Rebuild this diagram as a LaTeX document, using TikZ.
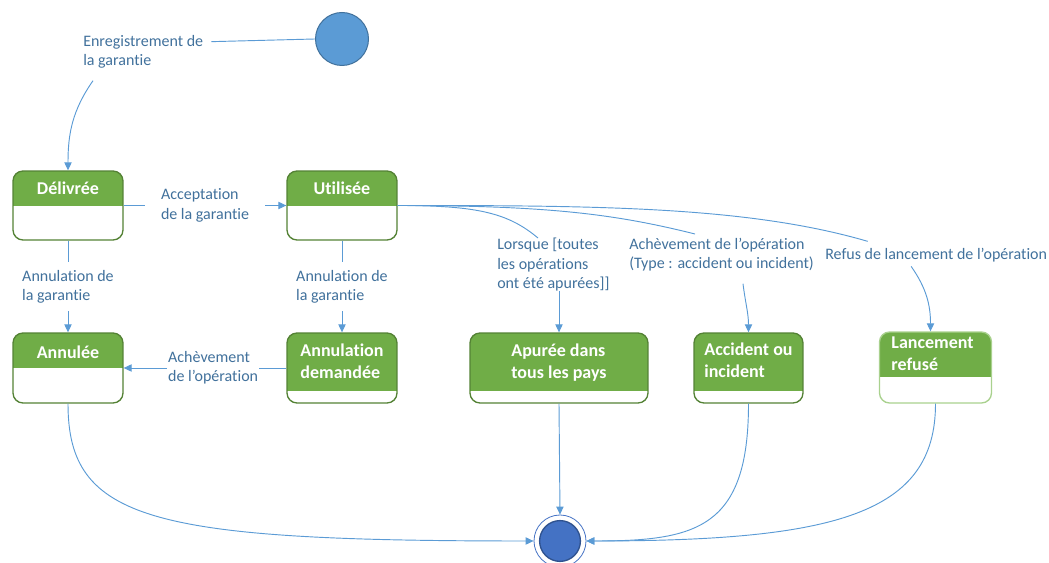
\documentclass[tikz,border=0pt]{standalone}
\usepackage{fontspec}
\setmainfont[Ligatures=NoCommon]{Carlito}
\usetikzlibrary{arrows.meta,calc}

\definecolor{vertfonce}{HTML}{548235}
\definecolor{vert}{HTML}{70AD47}
\definecolor{vertpale}{HTML}{A9D18E}
\definecolor{bleu}{HTML}{5B9BD5}
\definecolor{bleutexte}{HTML}{41719C}
\definecolor{bleufin}{HTML}{4472C4}
\definecolor{bleufinbord}{HTML}{2F528F}

\tikzset{
  etat/.style={draw=vertfonce, line width=1pt, rounded corners=7.5pt, fill=white, inner sep=0pt},
  entete/.style={path picture={\fill[vert, sharp corners] (path picture bounding box.north west) rectangle ([yshift=-#1]path picture bounding box.north east);}},
  titre/.style={text=white, font=\bfseries\fontsize{13.5}{16.5}\selectfont, align=left, inner sep=0pt},
  lbl/.style={text=bleutexte, font=\fontsize{12}{14.5}\selectfont, align=left, inner sep=0pt},
  depart/.style={circle, fill=bleu, draw=bleutexte, line width=0.75pt, minimum size=39.75pt, inner sep=0pt},
  final/.style={circle, draw=bleufin, line width=0.6pt, minimum size=39pt, inner sep=0pt,
    path picture={\filldraw[fill=bleufin, draw=bleufinbord, line width=1pt] (path picture bounding box.center) circle (15.3pt);}},
  trait/.style={draw=bleu, line width=0.7pt},
  fleche/.style={trait, -{Triangle[length=6pt,width=5.5pt]}},
}

\begin{document}
\begin{tikzpicture}[x=0.75pt, y=0.75pt]
    \useasboundingbox (0,0) rectangle (1049,563);

    \node[depart] (init) at (342,524) {};
    \node[final] (fin) at (560,22) {};

    \node[etat, entete=26.25pt, minimum width=82.5pt, minimum height=51.75pt] (delivree) at (68,357.5) {};
    \node[etat, entete=26.25pt, minimum width=82.5pt, minimum height=51.75pt] (utilisee) at (342,357.5) {};
    \node[etat, entete=26.25pt, minimum width=82.5pt, minimum height=52.5pt] (annulee) at (68,195) {};
    \node[etat, entete=43.5pt, minimum width=82.5pt, minimum height=52.5pt] (demandee) at (342,195) {};
    \node[etat, entete=43.5pt, minimum width=133.5pt, minimum height=52.5pt] (apuree) at (559,195) {};
    \node[etat, entete=43.5pt, minimum width=81.75pt, minimum height=52.5pt] (accident) at (748.5,195) {};
    \node[etat, draw=vertpale, entete=33.75pt, minimum width=84pt, minimum height=53.25pt] (lancement) at (935.5,195.5) {};

    \node[titre] (delivree-t) at (68,374.5) {Délivrée};
    \node[titre] (utilisee-t) at (342,374.5) {Utilisée};
    \node[titre] (annulee-t) at (68,211) {Annulée};
    \node[titre] (demandee-t) at (342,201.5) {Annulation\\demandée};
    \node[titre] (apuree-t) at (559,200.5) {Apurée dans\\tous les pays};
    \node[titre] (accident-t) at (748.5,202.5) {Accident ou\\incident};
    \node[titre] (lancement-t) at (932.5,209) {Lancement\\refusé};

    \node[lbl, anchor=north west] (enreg) at (83,528) {Enregistrement de\\la garantie};
    \node[lbl, anchor=north west] (lorsque) at (497,325) {Lorsque [toutes\\les opérations\\ont été apurées]]};
    \node[lbl, anchor=north west] (acheve) at (629,325) {Achèvement de l’opération\\(Type : accident ou incident)};
    \node[lbl, anchor=north west] (refus) at (825,315) {Refus de lancement de l’opération};

    \draw[trait] (init.west) -- ([xshift=6pt,yshift=-5pt]enreg.north east);
    \draw[fleche] ([xshift=7.5pt,yshift=-9pt]enreg.south west) to[out=-125,in=90] (delivree.north);

    \draw[fleche] (delivree.east) -- node[lbl, fill=white, inner xsep=12pt, inner ysep=2pt] (accept) {Acceptation\\de la garantie} (utilisee.west);
    \draw[fleche] (delivree.south) -- node[lbl, fill=white, inner ysep=6pt] (annul1) {Annulation de\\la garantie} (annulee.north);
    \draw[fleche] (utilisee.south) -- node[lbl, fill=white, inner ysep=6pt] (annul2) {Annulation de\\la garantie} (demandee.north);
    \draw[fleche] (demandee.west) -- node[lbl, fill=white, inner xsep=1pt, pos=0.45] (acheve1) {Achèvement\\de l’opération} (annulee.east);

    \draw[trait] (utilisee.east) .. controls +(80,0) and +(-30,25) .. ([xshift=30.75pt]lorsque.north west);
    \draw[trait] (utilisee.east) .. controls +(150,0) and +(-80,20) .. ([xshift=49.5pt,yshift=3pt]acheve.north west);
    \draw[trait] (utilisee.east) .. controls +(200,0) and +(-120,35) .. ([xshift=32pt,yshift=5pt]refus.north west);

    \draw[fleche] (lorsque.south -| apuree.north) -- (apuree.north);
    \draw[fleche] ($(acheve.south -| accident.north)+(-5.5,-12)$) to[out=-83,in=90] (accident.north);
    \draw[fleche] ($(refus.south)+(-25,-4)$) to[out=-55,in=90] ($(lancement.north)+(-5,0)$);

    \draw[fleche] (annulee.south) .. controls +(0,-117) and +(-383,0) .. (fin.west);
    \draw[fleche] (apuree.south) -- (fin.north);
    \draw[fleche] (accident.south) .. controls +(0,-125) and +(110,0) .. (fin.east);
    \draw[fleche] (lancement.south) .. controls +(0,-110) and +(250,0) .. (fin.east);
\end{tikzpicture}
\end{document}
